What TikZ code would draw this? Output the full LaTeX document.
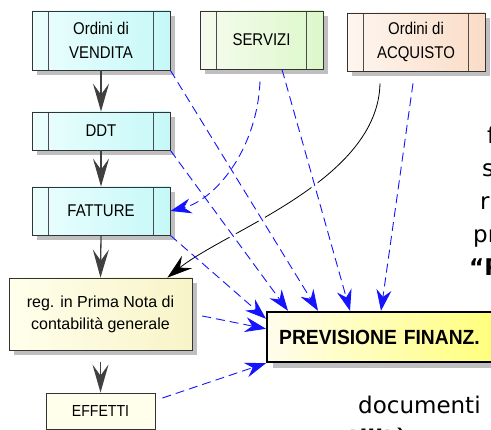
\documentclass[tikz,border=0pt]{standalone}
\usepackage{fontspec}
\setmainfont{Liberation Sans}
\newfontfamily\boxfont[FakeStretch=0.88]{Liberation Sans}
\newfontfamily\prevfont[FakeStretch=0.94]{Liberation Sans}
\newfontfamily\dvfont{DejaVu Sans}
\usetikzlibrary{arrows.meta,shadows}
\definecolor{cyL}{HTML}{ECFEFE}
\definecolor{cyR}{HTML}{C6F8F8}
\definecolor{grL}{HTML}{F6FCEE}
\definecolor{grR}{HTML}{DCF8CA}
\definecolor{orL}{HTML}{FEF6F0}
\definecolor{orR}{HTML}{FADCC6}
\definecolor{yeL}{HTML}{FFFFEC}
\definecolor{yeR}{HTML}{F8F4C8}
\definecolor{pvL}{HTML}{FFFDEC}
\definecolor{pvR}{HTML}{FFFF78}
\definecolor{arrgray}{HTML}{404040}
\definecolor{lineblue}{HTML}{1414FF}
\tikzset{
  box/.style={draw=black!80, line width=0.8pt, inner sep=0pt, align=center,
    font=\boxfont\fontsize{17}{23.5}\selectfont,
    drop shadow={shadow xshift=5pt, shadow yshift=-5pt, opacity=0.45, fill=black!55}},
  procbox/.style={box, path picture={
    \draw[line width=0.8pt, draw=black!70]
      ([xshift=16pt]path picture bounding box.north west) -- ([xshift=16pt]path picture bounding box.south west)
      ([xshift=-17pt]path picture bounding box.north east) -- ([xshift=-17pt]path picture bounding box.south east);}},
  cyanbox/.style={procbox, left color=cyL, right color=cyR},
  greenbox/.style={procbox, left color=grL, right color=grR},
  peachbox/.style={procbox, left color=orL, right color=orR},
  grayarr/.style={draw=arrgray, line width=1.3pt, -{Stealth[length=28pt,width=16pt,inset=11pt]}},
  bluearr/.style={draw=lineblue, line width=0.9pt, dash pattern=on 9pt off 5pt,
    -{Stealth[length=21pt,width=15pt,inset=7pt]}},
  gapline/.style={draw=white, line width=7pt, shorten <=12pt, shorten >=20pt},
  blackarr/.style={draw=black, line width=0.8pt, -{Stealth[length=25pt,width=16pt,inset=9pt]}},
  rtext/.style={anchor=base west, inner sep=0pt, font=\dvfont\fontsize{23}{28}\selectfont}
}
\begin{document}
\begin{tikzpicture}[x=1pt,y=-1pt]
\useasboundingbox (0,0) rectangle (491,430);
\fill[white] (0,0) rectangle (491,430);

% boxes
\node[cyanbox, minimum width=138pt, minimum height=59pt] (VEN) at (101,40.5) {Ordini di\\VENDITA};
\node[greenbox, minimum width=123pt, minimum height=58pt] (SER) at (261.5,40) {SERVIZI};
\node[peachbox, minimum width=138pt, minimum height=58pt] (ACQ) at (416,42) {Ordini di\\ACQUISTO};
\node[cyanbox, minimum width=138pt, minimum height=38pt] (DDT) at (101,131) {DDT};
\node[cyanbox, minimum width=138pt, minimum height=48pt] (FAT) at (101,211) {FATTURE};
\node[box, left color=yeL, right color=yeR, minimum width=183pt, minimum height=72pt,
  font=\fontsize{16}{22}\selectfont] (REG) at (100.5,314) {reg. in Prima Nota di\\contabilità generale};
\node[draw=black!80, line width=0.8pt, fill=yeL, inner sep=0pt, minimum width=109pt, minimum height=36pt,
  font=\boxfont\fontsize{16}{20}\selectfont] (EFF) at (100.5,411) {EFFETTI};
\node[draw=black, line width=2.4pt, left color=pvL, right color=pvR, anchor=west,
  inner xsep=12pt, inner ysep=0pt, text width=210pt, align=left, minimum height=50pt,
  font=\prevfont\bfseries\fontsize{20.5}{24}\selectfont,
  drop shadow={shadow xshift=6pt, shadow yshift=-6pt, opacity=0.45, fill=black!55}] (PREV) at (266,337) {PREVISIONE FINANZ.};

% right-hand text (cut by the frame)
\node[rtext] (r1) at (487,144) {f};
\node[rtext] (r2) at (482,177) {s};
\node[rtext] (r3) at (480,210) {ri};
\node[rtext] (r4) at (473,243) {pr};
\node[rtext, font=\dvfont\bfseries\fontsize{23}{28}\selectfont] (r5) at (469,276) {“P};
\node[rtext] (r6) at (358,414) {documenti};
\node[rtext, font=\dvfont\bfseries\fontsize{23}{28}\selectfont] (r7) at (332,447) {utilità};

% coordinates
\coordinate (tV) at ([xshift=52pt]PREV.north west);
\coordinate (tD) at ([xshift=22pt]PREV.north west);
\coordinate (tF) at ([yshift=-8pt]PREV.north west);
\coordinate (tR) at ([yshift=-18pt]PREV.north west);
\coordinate (tS) at ([xshift=84pt]PREV.north west);
\coordinate (tA) at ([xshift=115pt]PREV.north west);
\coordinate (sS1) at ([xshift=20.5pt]SER.south);
\coordinate (sS2) at ([xshift=-1.5pt,yshift=-12pt]SER.south);
\coordinate (sA1) at ([xshift=-3pt,yshift=-12pt]ACQ.south);
\coordinate (sA2) at ([xshift=-36pt,yshift=-12pt]ACQ.south);
\coordinate (sE) at ([xshift=7pt,yshift=13pt]EFF.east);
\coordinate (eR) at ([xshift=-25pt]REG.north east);

% gray flow arrows
\draw[grayarr] (VEN.south) -- (DDT.north);
\draw[grayarr] (DDT.south) -- (FAT.north);
\draw[grayarr] (FAT.south) -- (REG.north);
\draw[grayarr, shorten <=12pt] (REG.south) -- (EFF.north);

% black curve from ACQUISTO
\draw[blackarr] (sA2) .. controls (378,180) and (227,230) .. (eR);

% white gaps where blue lines cross the black curve
\draw[gapline] (VEN.south east) -- (tV);
\draw[gapline] (DDT.south east) -- (tD);
\draw[gapline] (sS1) -- (tS);

% blue dashed arrows
\draw[bluearr] (VEN.south east) -- (tV);
\draw[bluearr] (DDT.south east) -- (tD);
\draw[bluearr] (FAT.south east) -- (tF);
\draw[bluearr, shorten <=10pt] (REG.east) -- (tR);
\draw[bluearr] (sE) -- (PREV.south west);
\draw[bluearr] (sS1) -- (tS);
\draw[bluearr] (sA1) -- (tA);
\draw[bluearr] (sS2) .. controls (257,150) and (215,200) .. (FAT.east);
\end{tikzpicture}
\end{document}
